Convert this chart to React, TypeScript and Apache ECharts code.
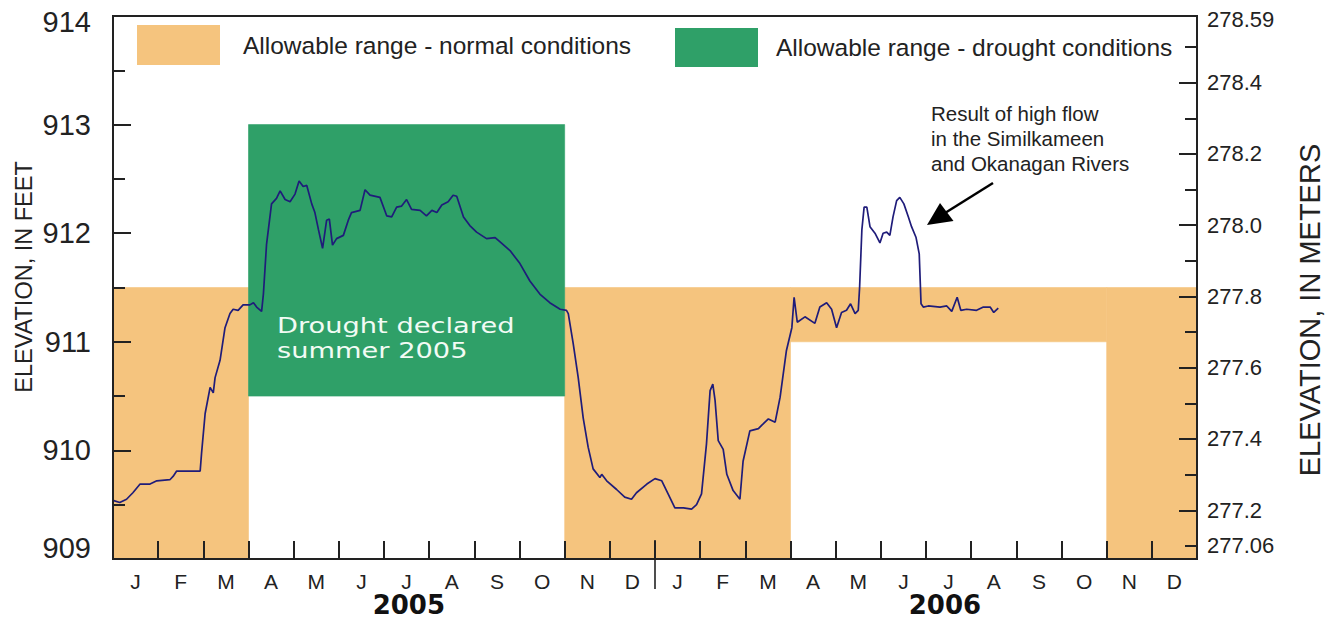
import React, { useEffect, useRef } from "react";
import * as echarts from "echarts";

// ---- axis labels ----
const monthLabels = ["J", "F", "M", "A", "M", "J", "J", "A", "S", "O", "N", "D", "J", "F", "M", "A", "M", "J", "J", "A", "S", "O", "N", "D"];
const yearLabels = ["2005", "2006"];
const yearLabelMonths = [6.55, 18.42];
const yearBoundaries = [12];

const feetMin = 909;
const feetMax = 914;
const metersPerFoot = 0.3048;
const meterMin = feetMin * metersPerFoot;
const meterMax = feetMax * metersPerFoot;
const meterLabelValues = [meterMin, 277.2, 277.4, 277.6, 277.8, 278.0, 278.2, 278.4, meterMax];
const meterMajorTicks = [277.2, 277.4, 277.6, 277.8, 278.0, 278.2, 278.4];
const meterMinorTicks = [277.1, 277.3, 277.5, 277.7, 277.9, 278.1, 278.3, 278.5];

// ---- allowable ranges: [startMonth, endMonth, lowFeet, highFeet] (months since Jan 2005) ----
const normalName = "Allowable range - normal conditions";
const droughtName = "Allowable range - drought conditions";
const normalRanges = [
  [0, 3, 909, 911.5],
  [10, 15, 909, 911.5],
  [15, 22, 911, 911.5],
  [22, 24, 909, 911.5],
];
const droughtRanges = [[3, 10, 910.5, 913]];

// ---- lake elevation (months since Jan 1 2005, feet) ----
const levelMonths = [
  0.0, 0.15, 0.3, 0.44, 0.6, 0.82, 0.97, 1.26, 1.33, 1.41, 1.63, 1.93, 1.96, 2.04, 2.15, 2.22, 2.26, 2.37, 2.48, 2.59,
  2.66, 2.77, 2.88, 3.03, 3.11, 3.18, 3.29, 3.33, 3.4, 3.51, 3.62, 3.7, 3.81, 3.92, 4.03, 4.12, 4.21, 4.29, 4.4, 4.47,
  4.55, 4.64, 4.73, 4.79, 4.86, 4.95, 5.1, 5.21, 5.28, 5.47, 5.58, 5.69, 5.91, 6.06, 6.17, 6.28, 6.39, 6.5, 6.61, 6.8,
  6.94, 7.06, 7.17, 7.28, 7.42, 7.53, 7.61, 7.76, 7.9, 8.05, 8.27, 8.46, 8.57, 8.79, 9.01, 9.23, 9.45, 9.67, 9.9, 10.04,
  10.08, 10.19, 10.3, 10.41, 10.52, 10.63, 10.78, 10.82, 10.93, 11.15, 11.33, 11.48, 11.59, 11.82, 12.0, 12.15, 12.29,
  12.44, 12.63, 12.81, 12.92, 13.03, 13.14, 13.22, 13.28, 13.33, 13.4, 13.51, 13.59, 13.73, 13.88, 13.95, 14.1, 14.29,
  14.36, 14.51, 14.66, 14.77, 14.91, 15.03, 15.08, 15.15, 15.32, 15.54, 15.65, 15.8, 15.91, 16.02, 16.13, 16.24, 16.33,
  16.43, 16.5, 16.53, 16.58, 16.63, 16.69, 16.76, 16.87, 16.98, 17.05, 17.13, 17.2, 17.27, 17.35, 17.42, 17.51, 17.61,
  17.68, 17.78, 17.85, 17.89, 17.94, 18.05, 18.31, 18.46, 18.57, 18.69, 18.77, 18.9, 19.12, 19.27, 19.42, 19.5, 19.6,
];
const levelFeet = [
  909.54, 909.52, 909.55, 909.61, 909.69, 909.69, 909.72, 909.73, 909.76, 909.81, 909.81, 909.81, 909.97, 910.34, 910.58,
  910.53, 910.67, 910.83, 911.13, 911.26, 911.3, 911.29, 911.34, 911.34, 911.36, 911.32, 911.28, 911.44, 911.9, 912.27,
  912.32, 912.39, 912.31, 912.29, 912.36, 912.48, 912.43, 912.44, 912.27, 912.19, 912.03, 911.86, 912.12, 912.13, 911.89,
  911.95, 911.98, 912.12, 912.19, 912.21, 912.4, 912.35, 912.33, 912.16, 912.15, 912.24, 912.25, 912.31, 912.22, 912.21,
  912.16, 912.21, 912.19, 912.26, 912.29, 912.35, 912.34, 912.15, 912.07, 912.01, 911.95, 911.96, 911.92, 911.84, 911.72,
  911.56, 911.44, 911.36, 911.3, 911.29, 911.26, 910.98, 910.67, 910.3, 910.03, 909.83, 909.75, 909.78, 909.72, 909.64,
  909.57, 909.55, 909.61, 909.69, 909.74, 909.72, 909.6, 909.47, 909.47, 909.46, 909.5, 909.6, 910.06, 910.55, 910.61,
  910.46, 910.09, 910.01, 909.78, 909.63, 909.55, 909.9, 910.18, 910.2, 910.23, 910.29, 910.26, 910.49, 910.92, 911.13,
  911.41, 911.18, 911.23, 911.17, 911.32, 911.36, 911.3, 911.13, 911.27, 911.29, 911.35, 911.26, 911.29, 911.5, 912.03,
  912.24, 912.24, 912.06, 912.0, 911.91, 912.0, 912.01, 911.98, 912.15, 912.3, 912.33, 912.27, 912.15, 912.06, 911.96,
  911.81, 911.35, 911.32, 911.33, 911.32, 911.33, 911.28, 911.41, 911.29, 911.3, 911.29, 911.32, 911.32, 911.27, 911.31,
];

const ORANGE = "#F5C47E";
const GREEN = "#2FA068";
const NAVY = "#1F1C7A";
const INK = "#222222";
const SANS = "'Liberation Sans', Arial, sans-serif";
const WIDE = "'DejaVu Sans', sans-serif";

function rangeRenderer(color: string) {
  return (_params: any, api: any) => {
    const p0 = api.coord([api.value(0), api.value(3)]);
    const p1 = api.coord([api.value(1), api.value(2)]);
    return {
      type: "rect",
      shape: { x: p0[0], y: p0[1], width: p1[0] - p0[0], height: p1[1] - p0[1] },
      style: { fill: color, stroke: color, lineWidth: 0.6 },
    };
  };
}

export default function App() {
  const ref = useRef<HTMLDivElement>(null);

  useEffect(() => {
    if (!ref.current) return;
    const chart = echarts.init(ref.current, undefined, { renderer: "svg" });

    const option: any = {
      animation: false,
      backgroundColor: "#ffffff",
      textStyle: { fontFamily: SANS, color: INK },
      grid: {
        left: 113,
        right: 139,
        top: 16,
        bottom: 61,
        show: true,
        borderColor: INK,
        borderWidth: 2,
        backgroundColor: "transparent",
      },
      legend: [
        {
          data: [{ name: normalName, icon: "rect" }],
          left: 137,
          top: 25,
          padding: 0,
          itemWidth: 83,
          itemHeight: 40,
          selectedMode: false,
          textStyle: { fontSize: 24.5, color: INK, fontFamily: SANS, padding: [0, 0, 0, 18] },
        },
        {
          data: [{ name: droughtName, icon: "rect" }],
          left: 675,
          top: 28,
          padding: 0,
          itemWidth: 83,
          itemHeight: 39,
          selectedMode: false,
          textStyle: { fontSize: 24.5, color: INK, fontFamily: SANS, padding: [0, 0, 0, 13] },
        },
      ],
      xAxis: [
        {
          type: "value",
          min: 0,
          max: 24,
          interval: 1,
          position: "bottom",
          z: 10,
          axisLine: { show: true, lineStyle: { color: INK, width: 2 } },
          axisTick: { show: true, inside: true, length: 18, lineStyle: { color: INK, width: 2 } },
          axisLabel: { show: false },
          splitLine: { show: false },
        },
        {
          type: "category",
          data: monthLabels,
          position: "bottom",
          boundaryGap: true,
          z: 10,
          axisLine: { show: false },
          axisTick: { show: false },
          axisLabel: {
            show: true,
            interval: 0,
            fontSize: 21,
            lineHeight: 20,
            color: INK,
            margin: 12,
            fontFamily: SANS,
          },
          splitLine: { show: false },
        },
      ],
      yAxis: [
        {
          type: "value",
          min: feetMin,
          max: feetMax,
          interval: 1,
          position: "left",
          z: 10,
          axisLine: { show: true, lineStyle: { color: INK, width: 2 } },
          axisTick: { show: true, inside: true, length: 18, lineStyle: { color: INK, width: 2 } },
          minorTick: { show: true, splitNumber: 2, length: 12, lineStyle: { color: INK, width: 2 } },
          axisLabel: {
            fontSize: 29,
            color: INK,
            margin: 22,
            fontFamily: SANS,
            formatter: (v: number) => (v === feetMin ? "{lo|909}" : v === feetMax ? "{hi|914}" : String(v)),
            rich: {
              lo: { fontSize: 29, color: INK, fontFamily: SANS, padding: [0, 0, 22, 0] },
              hi: { fontSize: 29, color: INK, fontFamily: SANS, padding: [12, 0, 0, 0] },
            },
          },
          splitLine: { show: false },
        },
        {
          type: "value",
          min: meterMin,
          max: meterMax,
          position: "right",
          z: 10,
          axisLine: { show: true, lineStyle: { color: INK, width: 2 } },
          axisTick: {
            show: true,
            inside: true,
            length: 18,
            customValues: meterMajorTicks,
            lineStyle: { color: INK, width: 2 },
          },
          axisLabel: {
            fontSize: 22,
            color: INK,
            margin: 10,
            fontFamily: SANS,
            customValues: meterLabelValues,
            formatter: (v: number) =>
              Math.abs(v - meterMin) < 1e-6
                ? "{lo|" + v.toFixed(2) + "}"
                : Math.abs(v - meterMax) < 1e-6
                ? "{hi|" + v.toFixed(2) + "}"
                : v.toFixed(1),
            rich: {
              lo: { fontSize: 22, color: INK, fontFamily: SANS, padding: [0, 0, 28, 0] },
              hi: { fontSize: 22, color: INK, fontFamily: SANS, padding: [6, 0, 0, 0] },
            },
          },
          splitLine: { show: false },
        },
        {
          type: "value",
          min: meterMin,
          max: meterMax,
          position: "right",
          z: 10,
          axisLine: { show: false },
          axisTick: {
            show: true,
            inside: true,
            length: 12,
            customValues: meterMinorTicks,
            lineStyle: { color: INK, width: 2 },
          },
          axisLabel: { show: false },
          splitLine: { show: false },
        },
      ],
      series: [
        {
          name: normalName,
          type: "custom",
          xAxisIndex: 0,
          yAxisIndex: 0,
          z: 1,
          silent: true,
          itemStyle: { color: ORANGE },
          encode: { x: [0, 1], y: [2, 3] },
          data: normalRanges,
          renderItem: rangeRenderer(ORANGE),
        },
        {
          name: droughtName,
          type: "custom",
          xAxisIndex: 0,
          yAxisIndex: 0,
          z: 1,
          silent: true,
          itemStyle: { color: GREEN },
          encode: { x: [0, 1], y: [2, 3] },
          data: droughtRanges,
          renderItem: rangeRenderer(GREEN),
        },
        {
          name: "Lake elevation",
          type: "line",
          xAxisIndex: 0,
          yAxisIndex: 0,
          z: 3,
          showSymbol: false,
          symbol: "none",
          lineStyle: { color: NAVY, width: 1.7 },
          itemStyle: { color: NAVY },
          data: levelMonths.map((m, i) => [m, levelFeet[i]]),
        },
        {
          name: "Year boundary",
          type: "custom",
          xAxisIndex: 0,
          yAxisIndex: 0,
          z: 12,
          silent: true,
          clip: false,
          encode: { x: 0 },
          data: yearBoundaries.map((m) => [m]),
          renderItem: (_p: any, api: any) => {
            const c = api.coord([api.value(0), feetMin]);
            return {
              type: "line",
              shape: { x1: c[0], y1: c[1] - 19, x2: c[0], y2: c[1] + 30 },
              style: { stroke: INK, lineWidth: 1.6 },
            };
          },
        },
        {
          name: "Year labels",
          type: "custom",
          xAxisIndex: 0,
          yAxisIndex: 0,
          z: 12,
          silent: true,
          clip: false,
          encode: { x: 0 },
          data: yearLabelMonths.map((m, i) => [m, i]),
          renderItem: (_p: any, api: any) => {
            const c = api.coord([api.value(0), feetMin]);
            return {
              type: "text",
              x: c[0],
              y: c[1] + 46,
              style: {
                text: yearLabels[api.value(1)],
                fontSize: 26,
                lineHeight: 22,
                fontWeight: "bold",
                fontFamily: WIDE,
                fill: "#111111",
                align: "center",
                verticalAlign: "middle",
              },
            };
          },
        },
      ],
      graphic: [
        {
          type: "text",
          x: 24,
          y: 277,
          rotation: Math.PI / 2,
          style: {
            text: "ELEVATION, IN FEET",
            fontSize: 23.5,
            fontFamily: SANS,
            fill: INK,
            align: "center",
            verticalAlign: "middle",
          },
        },
        {
          type: "text",
          x: 1310,
          y: 310,
          rotation: Math.PI / 2,
          style: {
            text: "ELEVATION, IN METERS",
            fontSize: 29,
            fontFamily: SANS,
            fill: INK,
            align: "center",
            verticalAlign: "middle",
          },
        },
        {
          type: "text",
          x: 931,
          y: 101,
          z: 20,
          style: {
            text: "Result of high flow\nin the Similkameen\nand Okanagan Rivers",
            fontSize: 20.5,
            lineHeight: 25,
            fontFamily: SANS,
            fill: INK,
            align: "left",
            verticalAlign: "top",
          },
        },
        {
          type: "line",
          z: 20,
          shape: { x1: 993, y1: 183, x2: 945, y2: 213 },
          style: { stroke: "#000000", lineWidth: 2.5 },
        },
        {
          type: "polygon",
          z: 20,
          shape: { points: [[927, 225], [940, 203], [953.5, 221]] },
          style: { fill: "#000000" },
        },
        {
          type: "text",
          x: 277,
          y: 314,
          scaleX: 1.33,
          z: 20,
          style: {
            text: "Drought declared\nsummer 2005",
            fontSize: 20.5,
            lineHeight: 25,
            fontFamily: WIDE,
            fill: "#F2FBF4",
            align: "left",
            verticalAlign: "top",
          },
        },
      ],
    };

    chart.setOption(option);
    return () => chart.dispose();
  }, []);

  return (
    <div
      ref={ref}
      style={{ position: "fixed", left: 0, top: 0, width: 1336, height: 620, background: "#fff" }}
    />
  );
}
